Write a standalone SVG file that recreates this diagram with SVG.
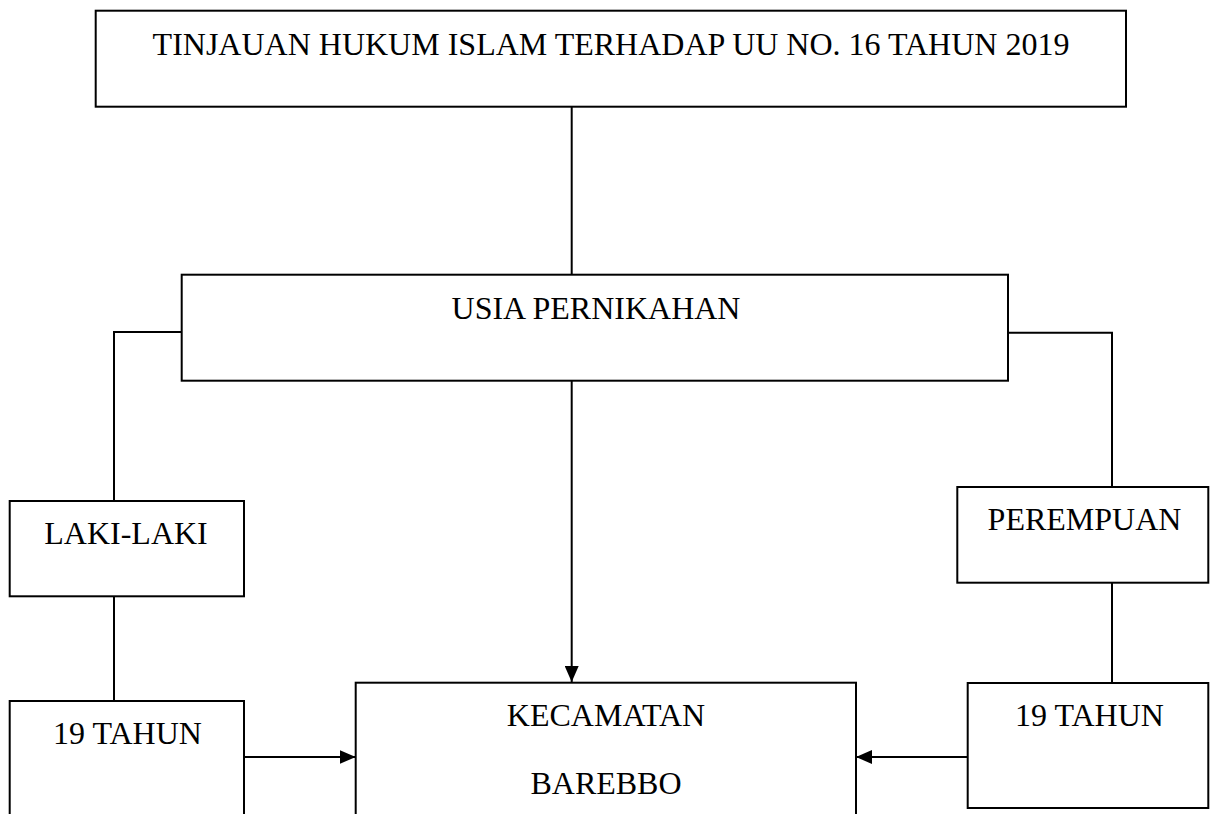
<svg xmlns="http://www.w3.org/2000/svg" width="1210" height="814" viewBox="0 0 1210 814">
<style>
.box{fill:#fff;stroke:#000;stroke-width:2}
.ln{fill:none;stroke:#000;stroke-width:2}
text{font-family:"Liberation Serif","Times New Roman",serif;font-size:32px;fill:#000;text-anchor:middle}
</style>
<defs>
<marker id="ah" markerWidth="16" markerHeight="14" refX="16" refY="7" orient="auto" markerUnits="userSpaceOnUse">
<path d="M0,0 L16,7 L0,14 Z" fill="#000"/>
</marker>
</defs>
<rect width="1210" height="814" fill="#fff"/>
<g id="connectors">
<path class="ln" d="M571.7,106.7 V274.7"/>
<path class="ln" d="M181.7,332 H114 V501"/>
<path class="ln" d="M1008,332.7 H1112 V487"/>
<path class="ln" d="M114,596.3 V701"/>
<path class="ln" d="M1112,582.7 V683"/>
<path class="ln" d="M571.7,380.7 V682" marker-end="url(#ah)"/>
<path class="ln" d="M244,757 H355.7" marker-end="url(#ah)"/>
<path class="ln" d="M967.7,757 H856" marker-end="url(#ah)"/>
</g>
<g id="n-title">
<rect class="box" x="95.7" y="10.7" width="1030.3" height="96"/>
<text x="611" y="54.5">TINJAUAN HUKUM ISLAM TERHADAP UU NO. 16 TAHUN 2019</text>
</g>
<g id="n-usia">
<rect class="box" x="181.7" y="274.7" width="826.3" height="106"/>
<text x="596" y="318.5">USIA PERNIKAHAN</text>
</g>
<g id="n-laki">
<rect class="box" x="9.7" y="501" width="234.3" height="95.3"/>
<text x="126" y="543.5">LAKI-LAKI</text>
</g>
<g id="n-perempuan">
<rect class="box" x="957.3" y="487" width="251" height="95.7"/>
<text x="1084.5" y="529.5">PEREMPUAN</text>
</g>
<g id="n-19l">
<rect class="box" x="9.7" y="701" width="234.3" height="130"/>
<text x="127.5" y="744">19 TAHUN</text>
</g>
<g id="n-kecamatan">
<rect class="box" x="355.7" y="682.7" width="500.3" height="150"/>
<text x="606" y="725.5">KECAMATAN</text>
<text x="606" y="794">BAREBBO</text>
</g>
<g id="n-19r">
<rect class="box" x="967.7" y="683" width="240.6" height="125"/>
<text x="1089.5" y="725.5">19 TAHUN</text>
</g>
</svg>
